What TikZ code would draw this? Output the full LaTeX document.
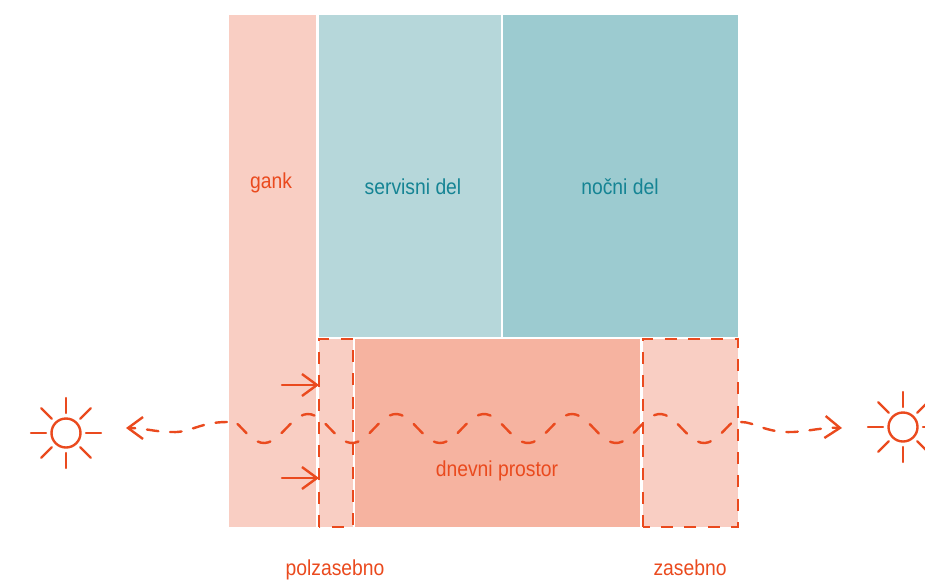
\documentclass[tikz,border=0pt]{standalone}
\usepackage{fontspec}
\setmainfont[FakeStretch=0.89]{Liberation Sans}
\usetikzlibrary{arrows.meta}

\definecolor{rust}{HTML}{EA4A1E}
\definecolor{tealtext}{HTML}{158494}
\definecolor{gankfill}{HTML}{F9CEC3}
\definecolor{servfill}{HTML}{B6D7DA}
\definecolor{nightfill}{HTML}{9CCBD0}
\definecolor{dayfill}{HTML}{F6B3A0}

\tikzset{
  room/.style={inner sep=0pt, outer sep=0pt},
  zone/.style={room, fill=gankfill},
  zoneline/.style={draw=rust, line width=2.8pt, dash pattern=on 12pt off 11.3pt},
  warmlabel/.style={text=rust, font=\fontsize{21.7}{24}\selectfont},
  coldlabel/.style={text=tealtext, font=\fontsize{21.7}{24}\selectfont},
  sunline/.style={draw=rust, line width=2.4pt, line cap=round},
  pointer/.style={sunline, -{Straight Barb[length=15pt, width=22pt, line width=2.4pt]}},
  wave/.style={sunline, dash pattern=on 13pt off 14.05pt, dash phase=24.95pt},
  tail/.style={pointer, dash pattern=on 11.5pt off 11.8pt}
}

\begin{document}
\begin{tikzpicture}[x=1pt, y=-1pt]
\useasboundingbox (0,0) rectangle (925,579);

% rooms
\node [room, fill=gankfill, minimum width=87pt, minimum height=512pt] (gank) at (272.5,271) {};
\node [room, fill=servfill, minimum width=182pt, minimum height=322pt] (servis) at (410,176) {};
\node [room, fill=nightfill, minimum width=235pt, minimum height=322pt] (night) at (620.5,176) {};
\node [room, fill=dayfill, minimum width=285pt, minimum height=188pt] (day) at (497.5,433) {};

% dashed zones
\node [zone, minimum width=34pt, minimum height=188pt] (halfzone) at (336,433) {};
\node [zone, minimum width=95pt, minimum height=188pt] (privzone) at (690.5,433) {};
\draw [zoneline] (halfzone.south west) rectangle (halfzone.north east);
\draw [zoneline] (privzone.south west) rectangle (privzone.north east);

\node [warmlabel] (gankname) at (271,183) {gank};
\node [coldlabel] (servisname) at (413,187) {servisni del};
\node [coldlabel] (nightname) at (620,187) {nočni del};
\node [warmlabel] (dayname) at (497,471) {dnevni prostor};
\node [warmlabel] (halfname) at (335,570) {polzasebno};
\node [warmlabel] (privname) at (690,568) {zasebno};

% entry arrows
\coordinate (entryA) at (282,385);
\coordinate (entryB) at (282,478);
\draw [pointer] (entryA) -- (entryA -| halfzone.west);
\draw [pointer] (entryB) -- (entryB -| halfzone.west);

% suns
\node [sunline, draw, circle, minimum size=29pt, inner sep=0pt] (sunL) at (66,433) {};
\node [sunline, draw, circle, minimum size=29pt, inner sep=0pt] (sunR) at (903,427) {};
\foreach \a in {0,45,...,315} {
  \draw [sunline] ([shift={(\a:20)}]sunL.center) -- ([shift={(\a:35)}]sunL.center);
  \draw [sunline] ([shift={(\a:20)}]sunR.center) -- ([shift={(\a:35)}]sunR.center);
}

% view line
\coordinate (tipL) at (126,428);
\coordinate (tipR) at (842,428);
\coordinate (tailL) at (227,422);
\coordinate (tailR) at (741,422);
\draw [wave] plot [domain=236:733, samples=140, smooth] (\x, {428.5-14.5*cos(4.0909*(\x-396))});
\draw [tail] (tailL) .. controls (200,422) and (190,433) .. (172,432)
  .. controls (155,432) and (145,428) .. (tipL);
\draw [tail] (tailR) .. controls (755,422) and (765,433) .. (793,432)
  .. controls (810,431) and (825,427) .. (tipR);
\end{tikzpicture}
\end{document}
